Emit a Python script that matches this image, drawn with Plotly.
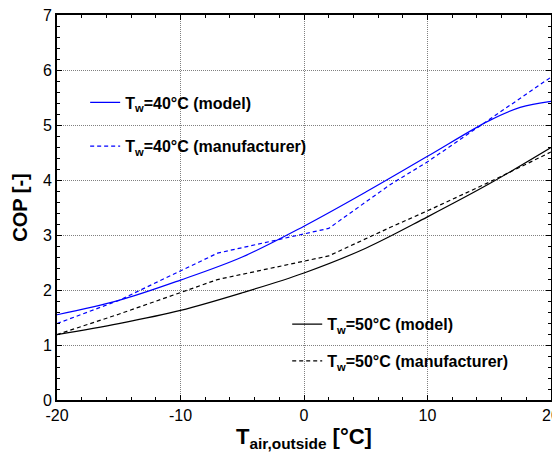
import plotly.graph_objects as go

# Model curves (smooth)
t_model_40 = [-20, -15, -10, -5, 0, 5, 10, 15, 17.5, 20]
cop_model_40 = [1.55, 1.81, 2.18, 2.60, 3.16, 3.78, 4.43, 5.08, 5.32, 5.43]

t_model_50 = [-20, -15, -10, -5, 0, 5, 10, 15, 20]
cop_model_50 = [1.19, 1.39, 1.63, 1.95, 2.31, 2.76, 3.33, 3.93, 4.59]

# Manufacturer data (piecewise linear)
t_man = [-20, -15, -7, 2, 7, 10, 15, 20]
cop_man_40 = [1.39, 1.81, 2.67, 3.12, 3.92, 4.33, 5.10, 5.87]
cop_man_50 = [1.19, 1.56, 2.19, 2.62, 3.14, 3.44, 3.96, 4.51]

x_tickvals = [-20, -10, 0, 10, 20]
x_ticktext = ["-20", "-10", "0", "10", "20"]
y_tickvals = [0, 1, 2, 3, 4, 5, 6, 7]

names = [
    "<b>T<sub>w</sub>=40°C (model)</b>",
    "<b>T<sub>w</sub>=40°C (manufacturer)</b>",
    "<b>T<sub>w</sub>=50°C (model)</b>",
    "<b>T<sub>w</sub>=50°C (manufacturer)</b>",
]

FONT = "Arial, 'Liberation Sans', sans-serif"
BLUE = "#0000ff"

fig = go.Figure()
fig.add_trace(go.Scatter(x=t_model_40, y=cop_model_40, mode="lines", name=names[0],
                         line=dict(color=BLUE, width=1.2, shape="spline"),
                         legend="legend", legendgroup="a"))
fig.add_trace(go.Scatter(x=t_man, y=cop_man_40, mode="lines", name=names[1],
                         line=dict(color=BLUE, width=1.2, dash="4px,3px"),
                         legend="legend", legendgroup="b"))
fig.add_trace(go.Scatter(x=t_model_50, y=cop_model_50, mode="lines", name=names[2],
                         line=dict(color="black", width=1.2, shape="spline"),
                         legend="legend2", legendgroup="c"))
fig.add_trace(go.Scatter(x=t_man, y=cop_man_50, mode="lines", name=names[3],
                         line=dict(color="black", width=1.2, dash="4px,3px"),
                         legend="legend2", legendgroup="d"))

axis_common = dict(
    showline=True, linecolor="black", linewidth=2, mirror="ticks",
    ticks="inside", ticklen=5, tickcolor="black", tickwidth=1,
    showgrid=True, gridcolor="#808080", gridwidth=1, griddash="1px,1px",
    zeroline=False, automargin=False, ticklabeloverflow="allow",
    tickfont=dict(family=FONT, size=16, color="black"),
)

# The page body has an 8px default margin, so the figure is sized to fit inside the window.
fig.update_layout(
    width=552, height=450,
    margin=dict(l=49, r=9, t=7, b=58),
    paper_bgcolor="white", plot_bgcolor="white",
    font=dict(family=FONT, color="black"),
    xaxis=dict(range=[-20, 20], tickvals=x_tickvals, ticktext=x_ticktext,
               minor=dict(dtick=2, ticks="inside", ticklen=3, tickcolor="black", showgrid=False),
               title=dict(text="<b>T<sub>air,outside</sub> [°C]</b>", font=dict(family=FONT, size=22), standoff=4),
               **axis_common),
    yaxis=dict(range=[0, 7], tickvals=y_tickvals,
               minor=dict(dtick=0.2, ticks="inside", ticklen=3, tickcolor="black", showgrid=False),
               title=dict(text="<b>COP [-]</b>", font=dict(family=FONT, size=20), standoff=10),
               **axis_common),
    legend=dict(x=0.057, y=0.817, xanchor="left", yanchor="top",
                bgcolor="rgba(0,0,0,0)", borderwidth=0, tracegroupgap=20,
                font=dict(family=FONT, size=16, color="black")),
    legend2=dict(x=0.466, y=0.241, xanchor="left", yanchor="top",
                 bgcolor="rgba(0,0,0,0)", borderwidth=0, tracegroupgap=13,
                 font=dict(family=FONT, size=16, color="black")),
)

fig.write_html("out.html")
